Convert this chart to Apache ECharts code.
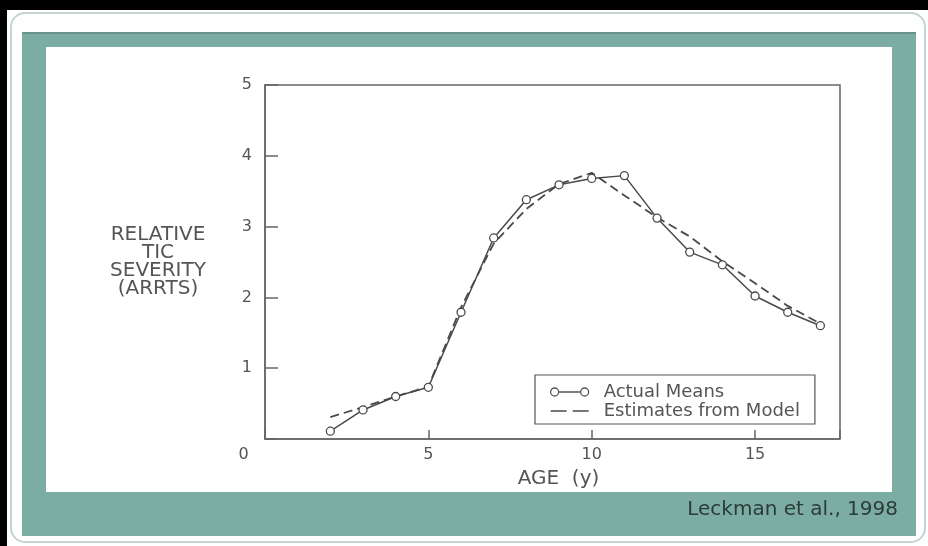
<!DOCTYPE html>
<html>
<head>
<meta charset="utf-8">
<script src="https://cdn.jsdelivr.net/npm/echarts@6/dist/echarts.min.js"></script>
<style>
html,body{margin:0;padding:0;background:#fff;}
#chart{width:928px;height:546px;}
</style>
</head>
<body>
<div id="chart"></div>
<script>
// ---- data ----
const ages = [2, 3, 4, 5, 6, 7, 8, 9, 10, 11, 12, 13, 14, 15, 16, 17];
const actualMeans = [0.11, 0.41, 0.60, 0.73, 1.79, 2.84, 3.38, 3.59, 3.68, 3.72, 3.12, 2.64, 2.46, 2.02, 1.79, 1.60];
const modelEstimates = [0.31, 0.45, 0.60, 0.74, 1.86, 2.76, 3.25, 3.60, 3.76, 3.44, 3.13, 2.86, 2.51, 2.20, 1.88, 1.63];
const seriesNames = ['Actual Means', 'Estimates from Model'];
const xTitle = 'AGE  (y)';
const yTitle = 'RELATIVE\nTIC\nSEVERITY\n(ARRTS)';
const sourceNote = 'Leckman et al., 1998';

const FONT = 'DejaVu Sans';
const GREY = '#555';
const LINE = '#4a4a4a';

const pair = (xs, ys) => xs.map((x, i) => [x, ys[i]]);

const chart = echarts.init(document.getElementById('chart'), null, {renderer: 'canvas'});

const option = {
  backgroundColor: '#fff',
  animation: false,
  graphic: [
    {type: 'rect', shape: {x: 0, y: 0, width: 928, height: 10}, style: {fill: '#000'}, z: -99, silent: true},
    {type: 'rect', shape: {x: 0, y: 0, width: 7, height: 546}, style: {fill: '#000'}, z: -99, silent: true},
    {type: 'rect', shape: {x: 11, y: 13, width: 914, height: 529, r: 14}, style: {fill: '#fff', stroke: '#c6d4d4', lineWidth: 2}, z: -98, silent: true},
    {type: 'rect', shape: {x: 22, y: 32, width: 894, height: 504}, style: {fill: '#7bada3'}, z: -97, silent: true},
    {type: 'rect', shape: {x: 22, y: 32, width: 894, height: 2}, style: {fill: '#6a958c'}, z: -97, silent: true},
    {type: 'rect', shape: {x: 46, y: 47, width: 846, height: 445}, style: {fill: '#fff'}, z: -96, silent: true}
  ],
  title: {
    text: sourceNote,
    right: 30,
    top: 500,
    padding: 0,
    textStyle: {fontFamily: FONT, fontSize: 20, fontWeight: 'normal', color: '#2c3b39'}
  },
  legend: {
    orient: 'vertical',
    left: 535,
    top: 375,
    padding: [8, 15, 4, 15],
    itemGap: 1,
    itemWidth: 38,
    itemHeight: 8,
    selectedMode: false,
    backgroundColor: '#fff',
    borderColor: GREY,
    borderWidth: 1.2,
    borderRadius: 0,
    textStyle: {fontFamily: FONT, fontSize: 18, color: GREY, padding: [0, 0, 0, 10]},
    data: [
      {
        name: seriesNames[0],
        icon: 'path://M0,4A4,4,0,1,0,8,4A4,4,0,1,0,0,4Z M8,4L30,4 M30,4A4,4,0,1,0,38,4A4,4,0,1,0,30,4Z',
        itemStyle: {color: '#fff', borderColor: GREY, borderWidth: 1.3}
      },
      {
        name: seriesNames[1],
        icon: 'path://M0,0L0.01,0L0,0.01Z M0,3.3L16,3.3L16,4.7L0,4.7Z M22,3.3L38,3.3L38,4.7L22,4.7Z M37.99,8L38,8L38,7.99Z',
        itemStyle: {color: LINE, borderWidth: 0}
      }
    ]
  },
  grid: {
    left: 265,
    top: 85,
    width: 575,
    height: 354,
    show: true,
    backgroundColor: 'transparent',
    borderColor: '#666',
    borderWidth: 1.5
  },
  xAxis: {
    type: 'value',
    min: 0,
    max: 17.6,
    interval: 5,
    name: xTitle,
    nameLocation: 'middle',
    nameGap: 30,
    nameTextStyle: {fontFamily: FONT, fontSize: 20, color: GREY, padding: [0, 0, 0, 12]},
    axisLine: {show: true, lineStyle: {color: '#666', width: 1.5, cap: 'butt'}},
    axisTick: {show: true, inside: true, length: 9, lineStyle: {color: '#666', width: 1.5}},
    axisLabel: {
      margin: 8,
      fontFamily: FONT,
      fontSize: 16,
      color: GREY,
      formatter: v => v === 0 ? '{o|0}' : (v % 5 === 0 ? String(v) : ''),
      rich: {o: {fontFamily: FONT, fontSize: 16, color: GREY, padding: [0, 43, 0, 0]}}
    },
    splitLine: {show: false}
  },
  yAxis: {
    type: 'value',
    min: 0,
    max: 5,
    interval: 1,
    name: yTitle,
    nameLocation: 'middle',
    nameRotate: 0,
    nameGap: 107,
    nameTextStyle: {fontFamily: FONT, fontSize: 20, lineHeight: 18, color: GREY, align: 'center', verticalAlign: 'middle', padding: [0, 0, 6, 0]},
    axisLine: {show: true, lineStyle: {color: '#666', width: 1.5}},
    axisTick: {show: true, inside: true, length: 13, lineStyle: {color: '#666', width: 1.5}},
    axisLabel: {
      margin: 13,
      fontFamily: FONT,
      fontSize: 16,
      color: GREY,
      formatter: v => v === 0 ? '' : String(v)
    },
    splitLine: {show: false}
  },
  series: [
    {
      name: seriesNames[1],
      type: 'line',
      data: pair(ages, modelEstimates),
      symbol: 'none',
      lineStyle: {color: LINE, width: 1.8, type: [9, 5]},
      itemStyle: {color: LINE},
      z: 2
    },
    {
      name: seriesNames[0],
      type: 'line',
      data: pair(ages, actualMeans),
      symbol: 'circle',
      symbolSize: 8,
      lineStyle: {color: LINE, width: 1.5},
      itemStyle: {color: '#fff', borderColor: LINE, borderWidth: 1.3},
      z: 3
    }
  ]
};

chart.setOption(option);
</script>
</body>
</html>
